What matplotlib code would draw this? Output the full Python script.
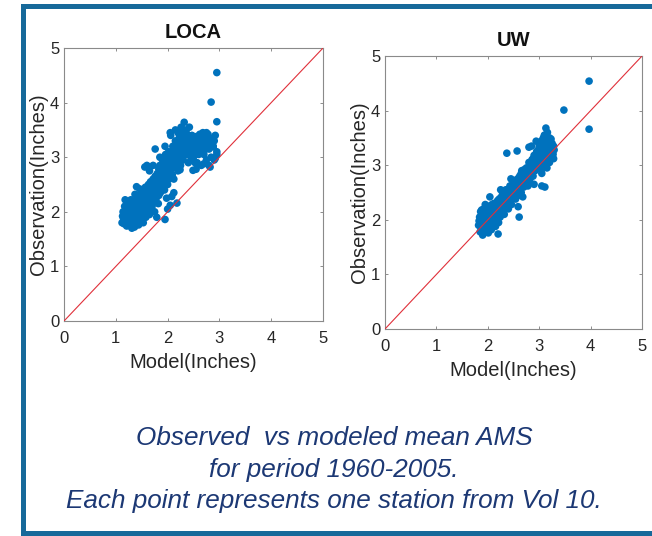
import numpy as np
import matplotlib
matplotlib.use("Agg")
from matplotlib import pyplot as plt
from matplotlib.lines import Line2D

plt.rcParams['font.family'] = ['Liberation Sans', 'DejaVu Sans']

# LOCA panel: model vs observed mean AMS (inches)
loca_model = [1.12, 1.15, 1.18, 1.20, 1.22, 1.25, 1.27, 1.28, 1.30, 1.31, 1.33, 1.35, 1.36, 1.38, 1.40, 1.41,
              1.43, 1.44, 1.45, 1.47, 1.48, 1.50, 1.50, 1.52, 1.53, 1.55, 1.56, 1.58, 1.60, 1.60, 1.62, 1.63,
              1.65, 1.66, 1.68, 1.70, 1.70, 1.72, 1.74, 1.75, 1.77, 1.78, 1.80, 1.80, 1.82, 1.84, 1.85, 1.86,
              1.88, 1.90, 1.90, 1.92, 1.94, 1.95, 1.96, 1.98, 2.00, 2.00, 2.02, 2.04, 2.05, 2.06, 2.08, 2.10,
              2.10, 2.12, 2.14, 2.15, 2.16, 2.18, 2.20, 2.20, 2.22, 2.24, 2.25, 2.26, 2.28, 2.30, 2.30, 2.32,
              2.33, 2.35, 2.36, 2.38, 2.40, 2.40, 2.42, 2.44, 2.45, 2.47, 2.48, 2.50, 2.50, 2.52, 2.55, 2.57,
              2.58, 2.60, 2.62, 2.65, 2.66, 2.68, 2.70, 2.72, 2.75, 2.76, 2.78, 2.80, 2.80, 2.82, 2.84, 2.86,
              2.88, 2.90, 2.92, 2.95, 2.84, 2.95, 2.95,
              1.13, 1.16, 1.19, 1.21, 1.23, 1.24, 1.26, 1.29, 1.29, 1.32, 1.34, 1.34, 1.37, 1.37, 1.39, 1.42,
              1.42, 1.44, 1.46, 1.46, 1.49, 1.49, 1.51, 1.54, 1.54, 1.57, 1.57, 1.59, 1.61, 1.64, 1.64, 1.67,
              1.67, 1.69, 1.71, 1.73, 1.76, 1.76, 1.79, 1.81, 1.83, 1.83, 1.87, 1.89, 1.91, 1.93, 1.97, 1.99,
              2.03, 2.07, 2.09, 2.11, 2.13, 2.17, 2.19, 2.21, 2.23, 2.27, 2.29, 2.31, 2.34, 2.37, 2.39, 2.43,
              2.46, 2.49, 2.53, 2.56, 2.59,
              1.76, 1.56, 1.60, 1.40, 1.18, 1.31, 1.79, 1.95, 2.18, 2.08, 2.05, 2.00, 2.12, 1.98, 2.24, 2.49,
              2.53, 2.92, 2.88, 2.82, 2.62, 2.75, 2.05, 2.15, 1.72, 1.65, 1.85, 1.95, 2.55, 2.70, 2.95, 2.90,
              1.14, 1.17, 1.24, 1.27, 1.32, 1.38, 1.43, 1.47, 1.52, 1.58, 1.62, 1.68, 1.46, 1.36, 1.26, 1.55,
              1.52, 1.58, 1.63, 1.66, 1.72, 1.74, 1.78, 1.81, 1.84, 1.87, 1.89, 1.92, 1.93, 1.96, 1.98, 2.01,
              2.03, 2.06, 2.08, 2.11, 2.13, 2.15, 2.17, 2.19, 2.21, 2.23, 2.25, 2.26, 2.28, 2.31, 2.33, 2.35,
              2.37, 2.39, 2.41, 2.44, 2.46, 2.48, 2.51, 2.54, 2.57, 2.61, 2.64, 2.67, 2.71, 2.74, 2.78, 2.85,
              1.45, 1.48, 1.53, 1.56, 1.62, 1.66, 1.70, 1.35, 1.30, 1.24, 1.20, 1.40]
loca_obs = [1.80, 1.88, 1.95, 1.83, 2.05, 1.90, 1.78, 2.00, 2.12, 1.72, 1.85, 1.95, 2.20, 1.80, 2.05, 1.90,
            2.30, 1.76, 2.00, 2.15, 1.85, 1.95, 2.40, 2.10, 1.80, 2.25, 2.00, 1.90, 2.35, 2.15, 2.05, 2.50,
            1.95, 2.30, 2.20, 2.45, 2.10, 2.60, 2.35, 2.00, 2.50, 2.25, 2.70, 2.40, 2.15, 2.55, 2.85, 2.35,
            2.65, 2.50, 2.95, 2.75, 2.40, 2.60, 3.05, 2.85, 2.70, 2.50, 3.10, 2.90, 2.65, 3.40, 3.00, 2.80,
            3.20, 2.60, 3.05, 3.30, 2.90, 3.15, 2.75, 3.45, 3.00, 3.25, 2.85, 3.55, 3.10, 3.35, 2.95, 3.64,
            3.20, 3.05, 3.45, 3.30, 2.90, 3.15, 3.55, 3.25, 3.00, 3.40, 3.20, 2.95, 3.10, 3.35, 3.15, 2.90,
            3.25, 3.05, 3.30, 2.85, 3.20, 3.45, 3.05, 3.38, 2.95, 3.30, 3.42, 2.85, 3.15, 3.35, 3.00, 3.25,
            3.20, 2.95, 3.40, 3.05, 4.01, 4.55, 3.65,
            1.92, 1.78, 2.02, 1.74, 1.96, 2.12, 1.84, 1.92, 2.22, 2.02, 1.76, 2.10, 1.88, 2.32, 1.98, 1.82,
            2.12, 2.22, 1.92, 2.42, 2.05, 2.28, 1.88, 2.02, 2.32, 2.12, 2.45, 1.98, 2.25, 2.10, 2.38, 2.02,
            2.55, 2.32, 2.20, 2.48, 2.30, 2.65, 2.42, 2.55, 2.30, 2.78, 2.48, 2.80, 2.62, 2.88, 2.72, 2.95,
            2.80, 2.92, 2.68, 3.05, 2.88, 3.02, 3.22, 2.92, 3.12, 3.00, 3.22, 3.08, 3.30, 3.15, 3.40, 3.10,
            3.28, 3.05, 3.22, 3.38, 3.12,
            3.15, 2.82, 2.85, 2.46, 2.22, 1.70, 1.90, 1.86, 2.16, 2.28, 2.12, 2.05, 2.35, 2.25, 2.77, 2.76,
            2.90, 2.98, 3.19, 2.82, 3.42, 3.45, 3.45, 3.50, 2.85, 2.75, 3.00, 3.20, 2.78, 2.88, 3.10, 3.30,
            2.00, 2.10, 1.80, 2.08, 1.95, 2.18, 2.08, 1.98, 2.18, 2.05, 2.28, 2.40, 1.80, 1.72, 1.92, 2.12,
            2.20, 2.30, 2.20, 2.42, 2.35, 2.55, 2.58, 2.35, 2.65, 2.58, 2.42, 2.55, 2.68, 2.80, 2.62, 2.90,
            2.60, 2.78, 3.10, 2.92, 3.18, 2.98, 3.28, 2.85, 3.10, 3.38, 3.05, 3.28, 3.45, 3.18, 3.50, 3.25,
            3.05, 3.22, 3.35, 3.05, 3.18, 3.32, 3.20, 3.05, 3.30, 3.18, 3.10, 3.32, 3.25, 3.15, 3.22, 3.30,
            2.08, 1.98, 2.15, 2.08, 2.12, 2.18, 2.28, 2.02, 1.82, 1.86, 1.95, 1.95]

# UW panel
uw_model = [1.82, 1.84, 1.85, 1.86, 1.87, 1.88, 1.89, 1.90, 1.91, 1.92, 1.93, 1.95, 1.96, 1.97, 1.98, 2.00,
            2.00, 2.02, 2.03, 2.04, 2.06, 2.07, 2.08, 2.10, 2.11, 2.12, 2.13, 2.15, 2.16, 2.18, 2.19, 2.20,
            2.21, 2.22, 2.24, 2.25, 2.26, 2.28, 2.30, 2.31, 2.32, 2.34, 2.35, 2.36, 2.38, 2.40, 2.40, 2.42,
            2.44, 2.45, 2.46, 2.48, 2.50, 2.50, 2.52, 2.54, 2.55, 2.56, 2.58, 2.60, 2.60, 2.62, 2.64, 2.65,
            2.66, 2.68, 2.70, 2.72, 2.74, 2.75, 2.76, 2.78, 2.80, 2.80, 2.82, 2.84, 2.85, 2.86, 2.88, 2.90,
            2.90, 2.92, 2.94, 2.95, 2.96, 2.98, 3.00, 3.00, 3.02, 3.04, 3.05, 3.06, 3.08, 3.10, 3.10, 3.12,
            3.13, 3.14, 3.15, 3.16, 3.18, 3.20, 3.20, 3.22, 3.24, 3.25, 3.26, 3.28, 3.15, 3.05,
            1.83, 1.86, 1.88, 1.90, 1.92, 1.94, 1.96, 1.99, 2.01, 2.03, 2.05, 2.07, 2.09, 2.11, 2.14, 2.17,
            2.20, 2.23, 2.27, 2.29, 2.33, 2.37, 2.41, 2.43, 2.47, 2.51, 2.53, 2.57, 2.61, 2.63, 2.67, 2.69,
            2.71, 2.73, 2.77, 2.79, 2.83, 2.87, 2.89, 2.93, 2.97, 2.99, 3.03, 3.07, 3.09, 3.11, 3.17, 3.19,
            3.21, 3.23, 3.27, 3.29,
            3.97, 3.48, 3.97, 2.37, 2.57, 2.80, 2.94, 3.11, 3.05, 2.61, 2.59, 2.20, 2.04, 2.25, 2.45, 2.85,
            2.68, 2.90,
            1.87, 1.90, 1.93, 1.95, 1.98, 2.02, 2.05, 2.08, 2.12, 2.15, 2.18, 2.22, 2.25, 2.28, 2.32, 2.35,
            2.38, 2.42, 2.45, 2.48, 2.52, 2.55, 2.58, 2.62, 2.65, 2.68, 2.72, 2.75, 2.78, 2.82, 2.85, 2.88,
            2.92, 2.95, 2.98, 3.02, 3.05, 3.08, 3.12, 3.15, 3.18, 3.22, 3.25, 3.28, 2.00, 1.95]
uw_obs = [1.90, 2.05, 1.78, 2.15, 1.95, 1.85, 2.10, 1.72, 2.00, 2.20, 1.88, 2.05, 1.80, 2.15, 1.95, 2.10,
          1.85, 2.00, 2.25, 1.90, 2.12, 1.82, 2.02, 2.20, 1.92, 2.30, 2.05, 1.88, 2.18, 2.00, 2.35, 2.10,
          1.95, 2.25, 2.05, 2.40, 2.15, 2.30, 2.20, 2.45, 2.10, 2.35, 2.25, 2.50, 2.30, 2.42, 2.20, 2.55,
          2.35, 2.48, 2.28, 2.60, 2.45, 2.70, 2.55, 2.38, 2.65, 2.50, 2.75, 2.58, 2.45, 2.80, 2.65, 2.50,
          2.90, 2.72, 2.60, 2.85, 2.68, 2.95, 2.78, 2.62, 2.90, 3.05, 2.75, 2.98, 2.85, 3.10, 2.80, 3.00,
          3.18, 2.90, 3.08, 3.25, 2.95, 3.15, 3.35, 3.02, 3.22, 2.92, 3.45, 3.10, 3.30, 3.55, 3.00, 3.20,
          3.68, 3.40, 3.10, 3.60, 3.28, 3.50, 3.05, 3.38, 3.18, 3.22, 3.30, 3.12, 2.95, 2.85,
          1.98, 1.88, 2.18, 1.92, 1.78, 2.12, 1.96, 2.02, 1.76, 1.95, 2.20, 2.08, 1.88, 2.14, 2.24, 2.08,
          2.30, 2.16, 2.26, 2.38, 2.28, 2.42, 2.32, 2.62, 2.52, 2.62, 2.48, 2.58, 2.70, 2.56, 2.78, 2.66,
          2.92, 2.76, 2.86, 2.70, 2.92, 2.95, 3.08, 3.12, 3.05, 3.25, 3.12, 3.40, 3.18, 3.28, 3.45, 3.35,
          3.22, 3.48, 3.20, 3.28,
          4.54, 4.01, 3.66, 3.22, 3.26, 3.33, 3.44, 2.60, 2.62, 2.05, 2.24, 1.74, 2.42, 2.55, 2.75, 3.35,
          2.42, 2.65,
          2.02, 2.12, 1.95, 2.22, 1.82, 2.15, 1.92, 2.28, 2.00, 2.30, 2.12, 2.38, 2.22, 2.45, 2.35, 2.55,
          2.38, 2.48, 2.62, 2.42, 2.72, 2.55, 2.68, 2.62, 2.85, 2.80, 2.70, 2.88, 2.95, 3.02, 2.92, 3.12,
          3.02, 3.18, 3.28, 3.35, 3.22, 3.50, 3.38, 3.52, 3.18, 3.28, 3.40, 3.35, 1.90, 2.28]

ticks = [0, 1, 2, 3, 4, 5]
panels = [("LOCA", loca_model, loca_obs), ("UW", uw_model, uw_obs)]
# axes boxes in figure fractions (left, bottom, width, height)
boxes = [[0.0982, 0.4011, 0.3972, 0.5093], [0.5905, 0.3862, 0.3942, 0.5093]]

fig = plt.figure(figsize=(6.52, 5.36), dpi=100)

for (name, xm, yo), box in zip(panels, boxes):
    ax = fig.add_axes(box)
    ax.plot([0, 5], [0, 5], color='#e0303a', lw=0.8, zorder=3)
    ax.scatter(xm, yo, s=30, color='#0072BD', edgecolors='none', zorder=2)
    ax.set_xlim(0, 5)
    ax.set_ylim(0, 5)
    ax.set_xticks(ticks)
    ax.set_yticks(ticks)
    ax.tick_params(direction='in', top=True, right=True, length=2.5, width=0.6,
                   colors='#7a7a7a', labelcolor='#262626', labelsize=12)
    ax.tick_params(axis='x', pad=7)
    ax.tick_params(axis='y', pad=3.5)
    for sp in ax.spines.values():
        sp.set_color('#8a8a8a')
        sp.set_linewidth(0.8)
    ax.set_xlabel('Model(Inches)', fontsize=14.5, color='#262626', labelpad=5)
    ax.set_ylabel('Observation(Inches)', fontsize=14.5, color='#262626', labelpad=1)
    ax.set_title(name, fontsize=14.5, fontweight='bold', color='#111111', pad=7)

# frame around the slide
frame_col = '#16699a'
fig.add_artist(Line2D([22.5 / 652, 22.5 / 652], [1 - 5.5 / 536, 1 - 533 / 536],
                      color=frame_col, lw=3.6, solid_capstyle='projecting'))
fig.add_artist(Line2D([22.5 / 652, 1.01], [1 - 5.5 / 536, 1 - 5.5 / 536],
                      color=frame_col, lw=3.6, solid_capstyle='projecting'))
fig.add_artist(Line2D([22.5 / 652, 1.01], [1 - 533 / 536, 1 - 533 / 536],
                      color=frame_col, lw=3.6, solid_capstyle='projecting'))

caption = ["Observed  vs modeled mean AMS",
           "for period 1960-2005.",
           "Each point represents one station from Vol 10."]
for line, ypx in zip(caption, [445, 476.5, 508]):
    fig.text(334 / 652, 1 - ypx / 536, line, ha='center', va='baseline', fontsize=18.8,
             style='italic', color='#1c3874')

fig.savefig('out.png', dpi=100)
